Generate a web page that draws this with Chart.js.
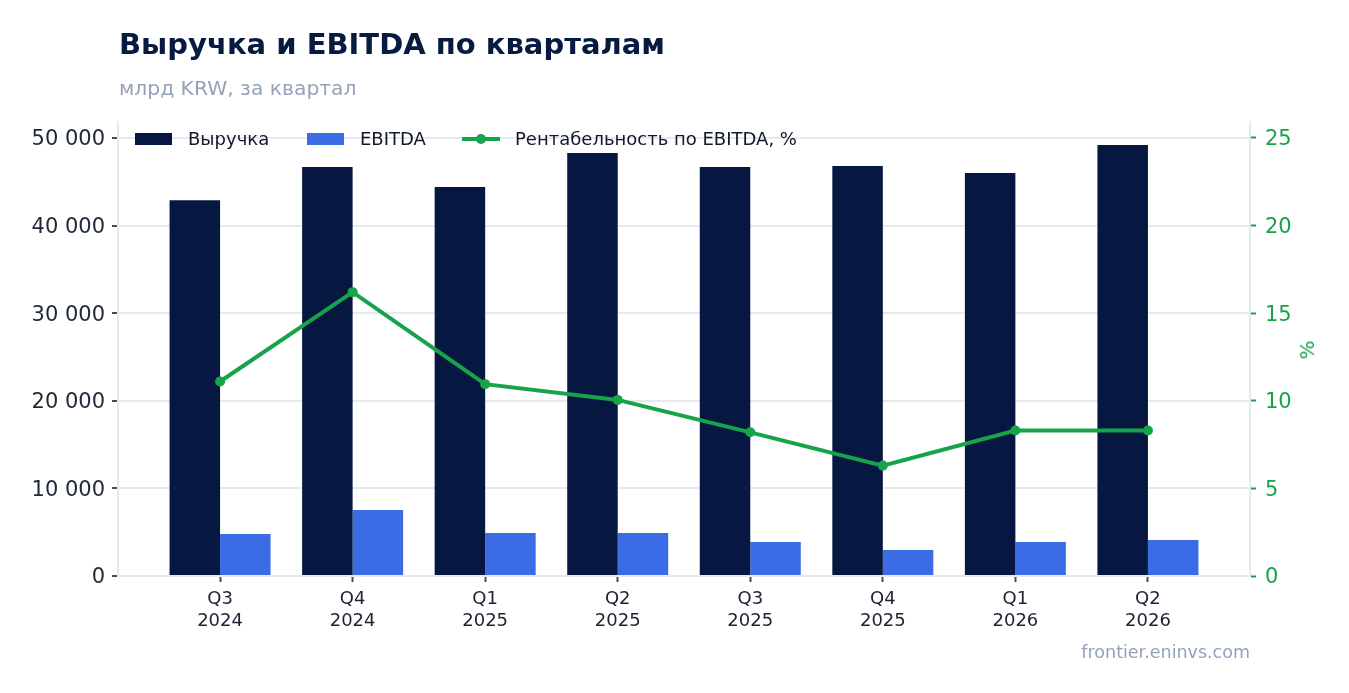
<!DOCTYPE html>
<html lang="ru">
<head>
<meta charset="utf-8">
<title>Выручка и EBITDA по кварталам</title>
<script src="https://cdn.jsdelivr.net/npm/chart.js@4.4.1/dist/chart.umd.min.js"></script>
<style>
  html, body { margin: 0; padding: 0; background: #fff; }
  body { font-family: "DejaVu Sans", sans-serif; }
  #wrap { position: relative; width: 1349px; height: 693px; overflow: hidden; }
  #chart { position: absolute; left: 0; top: 0; }
  .title { position: absolute; left: 119px; top: 30px; font-size: 29px; line-height: 29px; font-weight: bold; color: #071a40; white-space: nowrap; }
  .subtitle { position: absolute; left: 119px; top: 78px; font-size: 20.3px; line-height: 20px; color: #94a3b8; white-space: nowrap; }
  .footer { position: absolute; right: 99px; top: 644px; font-size: 17.5px; line-height: 17.5px; color: #94a3b8; white-space: nowrap; }
  .legend .item { position: absolute; top: 128px; height: 20px; display: flex; align-items: center; font-size: 18px; color: #111827; white-space: nowrap; }
  .legend .box { width: 37px; height: 12px; margin-right: 16px; margin-top: 2px; }
  .legend .line { position: relative; width: 38px; height: 4px; background: #16a34a; margin-right: 15px; margin-top: 1px; }
  .legend .line::after { content: ""; position: absolute; left: 14px; top: -3px; width: 10px; height: 10px; border-radius: 50%; background: #16a34a; }
  .ytitle { position: absolute; left: 1307px; top: 350px; transform: translate(-50%, -50%) rotate(-90deg); font-size: 20px; color: #16a34a; }
</style>
</head>
<body>
<div id="wrap">
  <canvas id="chart" width="1349" height="693"></canvas>
  <div class="title">Выручка и EBITDA по кварталам</div>
  <div class="subtitle">млрд KRW, за квартал</div>
  <div class="legend">
    <div class="item" style="left:135px"><span class="box" style="background:#061741"></span>Выручка</div>
    <div class="item" style="left:307px"><span class="box" style="background:#3b6ce6"></span>EBITDA</div>
    <div class="item" style="left:462px"><span class="line"></span>Рентабельность по EBITDA, %</div>
  </div>
  <div class="ytitle">%</div>
  <div class="footer">frontier.eninvs.com</div>
</div>
<script>
// quarters (two-line labels)
const quarters = [
  ['Q3', '2024'], ['Q4', '2024'], ['Q1', '2025'], ['Q2', '2025'],
  ['Q3', '2025'], ['Q4', '2025'], ['Q1', '2026'], ['Q2', '2026'],
];
// млрд KRW
const revenue = [42900, 46700, 44400, 48300, 46700, 46800, 46000, 49200];
const ebitda = [4790, 7530, 4910, 4910, 3880, 2970, 3880, 4110];
// %
const margin = [11.1, 16.2, 10.95, 10.05, 8.2, 6.3, 8.3, 8.3];

const leftTicks = [0, 10000, 20000, 30000, 40000, 50000];
const rightTicks = [0, 5, 10, 15, 20, 25];

const NAVY = '#061741';
const BLUE = '#3b6ce6';
const GREEN = '#16a34a';
const GRID = '#e5e9f0';

const pts = (arr) => arr.map((v, i) => ({ x: i, y: v }));
const fmt = (v) => String(v).replace(/\B(?=(\d{3})+(?!\d))/g, ' ');

const ctx = document.getElementById('chart').getContext('2d');
Chart.defaults.font.family = '"DejaVu Sans", sans-serif';

new Chart(ctx, {
  type: 'bar',
  data: {
    datasets: [
      {
        type: 'line',
        label: 'Рентабельность по EBITDA, %',
        data: pts(margin),
        yAxisID: 'y1',
        borderColor: GREEN,
        backgroundColor: GREEN,
        borderWidth: 4,
        pointRadius: 5,
        pointBorderWidth: 0,
        tension: 0,
        order: 0,
      },
      {
        label: 'Выручка',
        data: pts(revenue),
        yAxisID: 'y',
        backgroundColor: NAVY,
        categoryPercentage: 0.762,
        barPercentage: 1,
        order: 1,
      },
      {
        label: 'EBITDA',
        data: pts(ebitda),
        yAxisID: 'y',
        backgroundColor: BLUE,
        categoryPercentage: 0.762,
        barPercentage: 1,
        order: 1,
      },
    ],
  },
  options: {
    responsive: false,
    animation: false,
    devicePixelRatio: 1,
    layout: { padding: { top: 122, left: 0, right: 0, bottom: 0 } },
    plugins: {
      legend: { display: false },
      tooltip: { enabled: false },
    },
    scales: {
      x: {
        type: 'linear',
        offset: false,
        min: -0.77,
        max: 7.77,
        afterFit: (s) => { s.height = 117; },
        border: { color: GRID, width: 2 },
        grid: { offset: false, drawOnChartArea: false, drawTicks: true, tickLength: 6, tickColor: '#444b5a', tickWidth: 2 },
        afterBuildTicks: (s) => { s.ticks = quarters.map((q, i) => ({ value: i })); },
        ticks: {
          autoSkip: false,
          maxRotation: 0,
          padding: 7,
          color: '#1e2233',
          font: { size: 18, lineHeight: 1.2 },
          callback: (v) => quarters[v] || '',
        },
      },
      y: {
        position: 'left',
        min: 0,
        max: 51830,
        afterFit: (s) => { s.width = 118; },
        afterBuildTicks: (s) => { s.ticks = leftTicks.map((v) => ({ value: v })); },
        border: { color: GRID, width: 2 },
        grid: { color: GRID, lineWidth: 2, drawTicks: true, tickLength: 6, tickColor: '#444b5a', tickWidth: 2 },
        ticks: {
          padding: 7,
          labelOffset: 2,
          color: '#1f2937',
          font: { size: 21 },
          callback: (v) => fmt(v),
        },
      },
      y1: {
        position: 'right',
        min: 0,
        max: 25.91,
        afterFit: (s) => { s.width = 99; },
        afterBuildTicks: (s) => { s.ticks = rightTicks.map((v) => ({ value: v })); },
        border: { color: GRID, width: 2 },
        grid: { drawOnChartArea: false, drawTicks: true, tickLength: 6, tickColor: GREEN, tickWidth: 2 },
        ticks: {
          padding: 9,
          labelOffset: 2,
          color: GREEN,
          font: { size: 21 },
        },
      },
    },
  },
});
</script>
</body>
</html>
